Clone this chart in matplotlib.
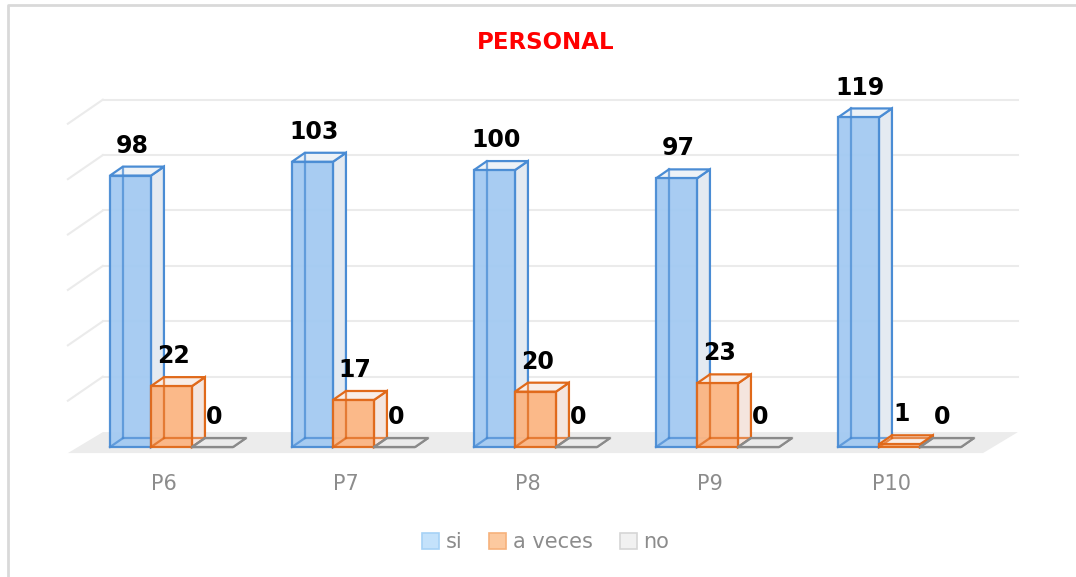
import matplotlib
matplotlib.use("Agg")
import matplotlib.pyplot as plt
from matplotlib.patches import Polygon, Patch
from matplotlib.lines import Line2D

plt.rcParams['font.family'] = ['DejaVu Sans']

# data
categories = ['P6', 'P7', 'P8', 'P9', 'P10']
series_names = ['si', 'a veces', 'no']
si_values = [98, 103, 100, 97, 119]
aveces_values = [22, 17, 20, 23, 1]
no_values = [0, 0, 0, 0, 0]
grid_values = [0, 20, 40, 60, 80, 100, 120]

# styles per series: front fill, edge, side face, top face, legend fill, legend edge
styles = [
    ('#a3caf2', '#4a8cd4', '#e4eaf1', '#edf2f7', '#c4e2fb', '#a6d2f6'),
    ('#fbb583', '#e0691a', '#f4e5de', '#f8ede7', '#fcc99f', '#f6b27b'),
    ('#eeeeee', '#8a8a8a', '#f2f2f2', '#ebebeb', '#f1f1f1', '#d6d6d6'),
]

# pseudo-3d geometry (data units: x = category, y = value)
W = 0.2253      # bar width
DX = 0.0714     # bar depth, x
DY = 3.25       # bar depth, y
FL_X0, FL_X1 = -0.569, 4.459   # floor front edge
FL_Y0 = -2.17
FL_DX, FL_DY = 0.192, 7.58     # floor depth


def draw_bar(ax, x0, v, st, z):
    front, edge, side, top = st[0], st[1], st[2], st[3]
    lw = 1.6
    ax.add_patch(Polygon([(x0 + W, 0), (x0 + W + DX, DY), (x0 + W + DX, v + DY), (x0 + W, v)],
                         closed=True, facecolor=side, edgecolor=edge, lw=lw, zorder=z))
    ax.add_patch(Polygon([(x0, v), (x0 + DX, v + DY), (x0 + W + DX, v + DY), (x0 + W, v)],
                         closed=True, facecolor=top, edgecolor=edge, lw=lw, zorder=z + 0.1))
    ax.bar(x0, v, width=W, align='edge', color=front, alpha=0.95, edgecolor=edge,
           linewidth=lw, zorder=z + 0.2)
    # hidden edges seen through the front face
    ax.plot([x0 + DX, x0 + DX], [DY, v + DY], color=edge, lw=lw, alpha=0.75, zorder=z + 0.3)
    ax.plot([x0 + DX, x0 + W + DX], [DY, DY], color=edge, lw=lw, alpha=0.75, zorder=z + 0.3)
    ax.plot([x0, x0 + DX], [0, DY], color=edge, lw=lw, alpha=0.75, zorder=z + 0.3)


fig = plt.figure(figsize=(10.76, 5.77), dpi=100)
ax = fig.add_axes([0, 0, 1, 1])
ax.set_xlim(-0.942, 4.970)
ax.set_ylim(-46.9, 161.4)
ax.axis('off')

# chart border (only top and left edges fall inside the picture)
bx, by = 7.5 / 1076, 1 - 4.5 / 577
fig.lines.append(Line2D([bx, bx, 1.0], [0.0, by, by], transform=fig.transFigure,
                        color='#d9d9d9', lw=2))

# floor
ax.add_patch(Polygon([(FL_X0, FL_Y0), (FL_X1, FL_Y0), (FL_X1 + FL_DX, FL_Y0 + FL_DY),
                      (FL_X0 + FL_DX, FL_Y0 + FL_DY)], closed=True,
                     facecolor='#ececec', edgecolor='none', zorder=1))

# gridlines on back and side walls
for g in grid_values[1:]:
    yb = FL_Y0 + FL_DY + g
    ax.plot([FL_X0 + FL_DX, FL_X1 + FL_DX], [yb, yb], color='#ebebeb', lw=1.5, zorder=1)
    ax.plot([FL_X0, FL_X0 + FL_DX], [yb - FL_DY - 1.1, yb], color='#ebebeb', lw=1.5, zorder=1)

all_values = [si_values, aveces_values, no_values]
for i in range(len(categories)):
    for s in range(3):
        x0 = i - 1.5 * W + s * W
        v = all_values[s][i]
        draw_bar(ax, x0, v, styles[s], 3 + s)
        ax.text(x0 + W / 2 + 0.01, v + 10.8, str(v), ha='center', va='center',
                fontsize=17, fontweight='bold', color='black', zorder=10)
    ax.text(i - 0.041, -13.4, categories[i], ha='center', va='center',
            fontsize=15, color='#8c8c8c')

ax.text(2.058, 146.2, 'PERSONAL', ha='center', va='center', fontsize=16.5,
        fontweight='bold', color='#ff0000')

handles = [Patch(facecolor=st[4], edgecolor=st[5], lw=1.2) for st in styles]
fig.legend(handles, series_names, loc='center', bbox_to_anchor=(0.507, 0.06), ncol=3,
           frameon=False, fontsize=15, handlelength=0.82, handleheight=0.82,
           handletextpad=0.3, columnspacing=1.3, labelcolor='#8c8c8c')

fig.savefig('out.png', dpi=100)
